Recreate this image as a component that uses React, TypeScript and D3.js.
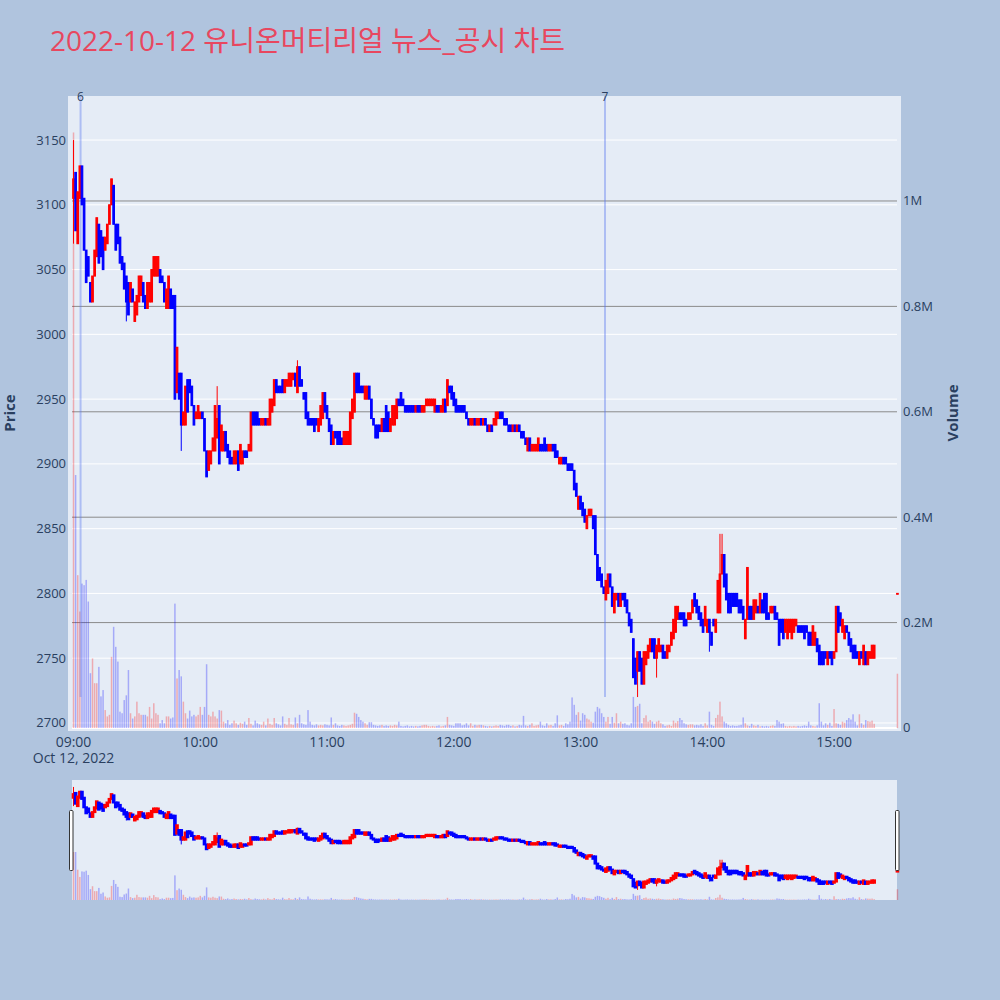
import React, { useEffect, useRef } from 'react'
import * as d3 from 'd3'

const title = '2022-10-12 유니온머티리얼 뉴스_공시 차트'

// one-minute candles from 09:00 (prices in won)
const opens = [
    3105, 3125, 3070, 3105, 3130, 3105, 3065, 3060, 3040, 3025,
    3045, 3060, 3085, 3080, 3075, 3065, 3070, 3085, 3100, 3115,
    3085, 3085, 3075, 3060, 3055, 3045, 3040, 3025, 3035, 3010,
    3015, 3025, 3030, 3040, 3030, 3020, 3025, 3025, 3045, 3045,
    3045, 3050, 3045, 3040, 3020, 3020, 3035, 3030, 3030, 2955,
    2970, 2970, 2930, 2930, 2965, 2965, 2960, 2945, 2935, 2935,
    2935, 2940, 2935, 2910, 2895, 2900, 2910, 2910, 2920, 2945,
    2910, 2910, 2925, 2915, 2910, 2905, 2900, 2900, 2910, 2900,
    2900, 2910, 2910, 2910, 2910, 2940, 2940, 2940, 2935, 2930,
    2930, 2935, 2930, 2930, 2940, 2945, 2965, 2960, 2960, 2965,
    2955, 2960, 2960, 2960, 2965, 2970, 2955, 2975,
    2965, 2955, 2955, 2940, 2935, 2935, 2935, 2935, 2925, 2930,
    2935, 2955, 2945, 2935, 2930, 2915, 2925, 2925, 2925, 2920,
    2915, 2915, 2915, 2915, 2935, 2940, 2970, 2970, 2960, 2960,
    2950, 2950, 2960, 2950, 2935, 2930, 2930, 2930, 2925, 2935,
    2945, 2940, 2925, 2930, 2930, 2935, 2950, 2955, 2950, 2945,
    2945, 2945, 2945, 2945, 2940, 2945, 2945, 2940, 2940, 2945,
    2945, 2945, 2945, 2940, 2945, 2945, 2940, 2940, 2950, 2945,
    2960, 2960, 2955, 2950, 2945, 2945, 2945, 2945,
    2940, 2935, 2930, 2930, 2935, 2930, 2930, 2935, 2930, 2935,
    2930, 2925, 2930, 2930, 2930, 2935, 2940, 2940, 2935, 2935,
    2930, 2930, 2925, 2930, 2925, 2930, 2925, 2925, 2920, 2910,
    2920, 2910, 2910, 2910, 2910, 2915, 2915, 2920, 2915, 2910,
    2910, 2915, 2915, 2910, 2900, 2900, 2905, 2905, 2900, 2900,
    2900, 2895, 2885, 2865, 2875, 2870, 2865, 2850,
    2860, 2860, 2860, 2860, 2830, 2820, 2815, 2805, 2795, 2800,
    2815, 2805, 2785, 2795, 2800, 2790, 2800, 2800, 2795, 2785,
    2780, 2765, 2750, 2740, 2755, 2750, 2730, 2745, 2750, 2755,
    2765, 2765, 2750, 2755, 2755, 2760, 2755, 2750, 2755, 2760,
    2765, 2770, 2780, 2785, 2785, 2785, 2780, 2780, 2780, 2785,
    2800, 2795, 2790,
    2785, 2780, 2775, 2770, 2780, 2770, 2780, 2770, 2785, 2785,
    2815, 2830, 2815, 2800, 2800, 2800, 2800, 2800, 2795, 2795,
    2790, 2765, 2780, 2790, 2790, 2780, 2785, 2790, 2785, 2795,
    2800, 2800, 2785, 2785, 2785, 2790, 2785, 2780, 2780, 2780,
    2770, 2765, 2770, 2765, 2770, 2775, 2775, 2775, 2775, 2775,
    2775, 2770, 2770, 2760, 2760, 2765, 2760, 2755, 2755, 2755,
    2745, 2755, 2755, 2750, 2755, 2790, 2785, 2770, 2765, 2775,
    2770, 2765, 2760, 2760, 2755, 2745, 2755, 2745, 2755, 2745,
    2750, 2750, 2750,
]

const closes = [
    3120, 3080, 3110, 3130, 3100, 3065, 3040, 3045, 3025, 3045,
    3065, 3090, 3055, 3060, 3050, 3075, 3085, 3100, 3120, 3085,
    3065, 3070, 3055, 3050, 3035, 3025, 3015, 3040, 3025, 3025,
    3030, 3045, 3045, 3025, 3020, 3040, 3040, 3050, 3060, 3060,
    3060, 3040, 3040, 3025, 3035, 3045, 3020, 3020, 2950, 2990,
    2950, 2930, 2940, 2960, 2940, 2955, 2945, 2930, 2940, 2945,
    2940, 2935, 2910, 2890, 2910, 2910, 2920, 2945, 2935, 2900,
    2930, 2925, 2910, 2905, 2900, 2900, 2910, 2910, 2895, 2915,
    2910, 2905, 2905, 2915, 2940, 2930, 2930, 2930, 2930, 2935,
    2935, 2930, 2935, 2950, 2950, 2965, 2955, 2955, 2955, 2955,
    2965, 2965, 2970, 2970, 2970, 2960, 2975, 2960,
    2960, 2950, 2935, 2930, 2930, 2930, 2925, 2930, 2935, 2945,
    2955, 2940, 2935, 2925, 2915, 2925, 2920, 2915, 2915, 2915,
    2925, 2925, 2925, 2940, 2950, 2970, 2955, 2955, 2955, 2955,
    2960, 2960, 2950, 2935, 2930, 2920, 2920, 2925, 2935, 2925,
    2925, 2925, 2935, 2945, 2945, 2950, 2945, 2945, 2945, 2940,
    2940, 2940, 2940, 2940, 2945, 2940, 2940, 2945, 2945, 2950,
    2950, 2950, 2950, 2950, 2940, 2940, 2945, 2950, 2940, 2965,
    2955, 2950, 2945, 2940, 2940, 2940, 2940, 2940,
    2935, 2930, 2935, 2935, 2930, 2935, 2935, 2930, 2935, 2930,
    2925, 2930, 2925, 2935, 2940, 2940, 2935, 2935, 2930, 2930,
    2925, 2925, 2930, 2925, 2930, 2925, 2920, 2920, 2915, 2920,
    2910, 2915, 2915, 2915, 2920, 2910, 2910, 2910, 2910, 2915,
    2915, 2910, 2905, 2905, 2905, 2905, 2900, 2900, 2895, 2895,
    2895, 2880, 2875, 2875, 2865, 2860, 2855, 2860,
    2865, 2865, 2850, 2830, 2810, 2810, 2805, 2800, 2810, 2815,
    2805, 2790, 2800, 2800, 2790, 2800, 2795, 2790, 2785, 2775,
    2770, 2735, 2730, 2755, 2740, 2730, 2755, 2755, 2760, 2765,
    2755, 2750, 2760, 2765, 2760, 2750, 2750, 2760, 2760, 2770,
    2780, 2790, 2790, 2780, 2780, 2775, 2775, 2785, 2785, 2795,
    2790, 2785, 2780,
    2775, 2770, 2790, 2780, 2770, 2760, 2775, 2780, 2810, 2815,
    2830, 2805, 2795, 2785, 2785, 2790, 2790, 2790, 2785, 2785,
    2780, 2780, 2820, 2780, 2780, 2795, 2795, 2785, 2800, 2785,
    2785, 2780, 2780, 2790, 2790, 2780, 2780, 2760, 2770, 2765,
    2780, 2780, 2780, 2780, 2780, 2780, 2770, 2770, 2770, 2765,
    2770, 2760, 2760, 2775, 2770, 2755, 2745, 2745, 2745, 2750,
    2755, 2750, 2745, 2755, 2790, 2770, 2775, 2780, 2775, 2770,
    2760, 2755, 2750, 2750, 2750, 2755, 2750, 2760, 2745, 2755,
    2755, 2760, 2760,
]

// traded volume per minute, thousands of shares
const volumesK = [
    1130, 480, 290, 221, 274, 271, 281, 240, 104, 132,
    85, 85, 116, 60, 72, 34, 22, 25, 135, 192,
    154, 126, 31, 28, 53, 62, 110, 28, 18, 22,
    50, 28, 25, 25, 25, 22, 40, 18, 47, 28,
    25, 9, 15, 9, 22, 22, 18, 20, 236, 94,
    110, 98, 50, 28, 18, 33, 22, 25, 22, 25,
    40, 25, 40, 121, 25, 22, 31, 22, 18, 34,
    33, 12, 9, 15, 6, 9, 14, 9, 6, 10,
    8, 12, 6, 19, 8, 5, 14, 9, 7, 6,
    12, 5, 18, 8, 6, 19, 9, 7, 5, 22,
    8, 6, 19, 7, 6, 20, 9, 25, 9, 7,
    6, 34, 12, 6, 5, 7, 5, 6, 5, 7,
    6, 5, 20, 6, 9, 5, 4, 6, 5, 4,
    5, 6, 8, 29, 27, 21, 15, 12, 9, 6,
    11, 11, 6, 5, 4, 5, 6, 4, 5, 4,
    5, 4, 6, 5, 12, 4, 3, 4, 5, 3,
    4, 3, 4, 3, 4, 5, 6, 6, 4, 3,
    4, 3, 4, 5, 3, 4, 5, 21, 6, 5,
    4, 9, 9, 9, 5, 6, 9, 5, 9, 4,
    6, 5, 6, 6, 5, 4, 3, 4, 3, 4,
    5, 4, 6, 5, 4, 6, 6, 4, 5, 3,
    4, 6, 5, 23, 5, 4, 6, 9, 4, 5,
    6, 12, 5, 4, 9, 5, 6, 4, 9, 24,
    5, 6, 4, 9, 7, 12, 58, 44, 25, 30,
    14, 28, 25, 18, 16, 12, 10, 31, 40, 37,
    28, 21, 12, 21, 8, 21, 10, 28, 9, 12,
    8, 9, 6, 5, 9, 59, 40, 42, 46, 9,
    19, 24, 12, 15, 12, 8, 12, 14, 9, 7,
    4, 5, 6, 4, 14, 10, 13, 19, 15, 9,
    7, 6, 7, 7, 5, 6, 5, 7, 4, 9,
    5, 31, 6, 4, 19, 25, 50, 22, 12, 9,
    6, 4, 5, 4, 4, 5, 6, 20, 9, 5,
    4, 8, 5, 4, 6, 3, 4, 3, 4, 3,
    4, 5, 4, 15, 12, 8, 9, 4, 3, 4,
    3, 4, 3, 4, 3, 4, 5, 4, 12, 5,
    4, 3, 5, 47, 12, 5, 9, 6, 10, 4,
    36, 9, 8, 6, 12, 10, 15, 19, 16, 26,
    12, 5, 26, 9, 6, 15, 13, 12, 14, 8,
]

// wicks that stick out beyond the body: [minute index, price]
const wickHighs = [[0, 3150], [68, 2960], [106, 2980], [306, 2846], [307, 2846]]
const wickLows = [[0, 3070], [25, 3010], [51, 2910], [267, 2720], [276, 2735], [301, 2755]]

// closing auction print
const auctionTime = '15:30'
const auctionPrice = 2800
const auctionVolumeK = 103

const newsMarkers = [
    { label: '6', time: '09:03:20' },
    { label: '7', time: '13:11:35' },
]

const priceTicks = [2700, 2750, 2800, 2850, 2900, 2950, 3000, 3050, 3100, 3150]
const volumeTicks = [0, 200000, 400000, 600000, 800000, 1000000]
const volumeTickLabels = ['0', '0.2M', '0.4M', '0.6M', '0.8M', '1M']
const hourTicks = ['09:00', '10:00', '11:00', '12:00', '13:00', '14:00', '15:00']

const at = (hms: string) => {
    const [h, m, s = 0] = hms.split(':').map(Number)
    return new Date(2022, 9, 12, h, m, s)
}

const UP = '#ff0000'
const DOWN = '#0000ff'
const FONT = "'Open Sans', 'Noto Sans CJK KR', sans-serif"
const TICK = '#2a3f5f'

export default function App() {
    const svgRef = useRef<SVGSVGElement>(null)

    useEffect(() => {
        if (!svgRef.current) return
        const svg = d3.select(svgRef.current)
        svg.selectAll('*').remove()

        const start = at('09:00')
        const highMap = new Map(wickHighs.map(d => [d[0], d[1]]))
        const lowMap = new Map(wickLows.map(d => [d[0], d[1]]))
        const candles = opens.map((o, i) => {
            const c = closes[i]
            return {
                t: d3.timeMinute.offset(start, i), o, c,
                h: Math.max(o, c, highMap.get(i) ?? 0),
                l: Math.min(o, c, lowMap.get(i) ?? 1e9),
                v: volumesK[i] * 1000,
                up: false,
            }
        })
        candles.push({ t: at(auctionTime), o: auctionPrice, c: auctionPrice, h: auctionPrice, l: auctionPrice, v: auctionVolumeK * 1000, up: false })
        candles.forEach((d, i) => {
            const prev = i > 0 ? candles[i - 1].c : d.o
            d.up = d.c > d.o || (d.c === d.o && d.c > prev)
        })

        const plot = { left: 68, right: 901, top: 96, bottom: 731 }
        const x = d3.scaleTime().domain([at('08:59:17'), at('15:29:48')]).range([72, 897])
        const yP = d3.scaleLinear().domain([2693.8, 3184]).range([plot.bottom, plot.top])
        const yV = d3.scaleLinear().domain([-5700, 1199200]).range([plot.bottom, plot.top])

        const slider = { top: 780, bottom: 900 }
        const ySP = d3.scaleLinear().domain([2678, 3179]).range([slider.bottom, slider.top])
        const ySV = d3.scaleLinear().domain([0, 460000]).range([slider.bottom, 852]).clamp(true)

        svg.append('rect').attr('width', 1000).attr('height', 1000).attr('fill', '#b0c4de')

        svg.append('text')
            .attr('x', 50).attr('y', 51)
            .attr('font-family', FONT).attr('font-size', 28)
            .attr('fill', '#e8475f')
            .text(title)

        const defs = svg.append('defs')
        defs.append('clipPath').attr('id', 'plot-clip')
            .append('rect').attr('x', plot.left).attr('y', plot.top)
            .attr('width', plot.right - plot.left).attr('height', plot.bottom - plot.top)

        svg.append('rect')
            .attr('x', plot.left).attr('y', plot.top)
            .attr('width', plot.right - plot.left).attr('height', plot.bottom - plot.top)
            .attr('fill', '#e5ecf6')

        // price grid
        svg.append('g').selectAll('line').data(priceTicks).join('line')
            .attr('x1', 72).attr('x2', 897)
            .attr('y1', d => yP(d)).attr('y2', d => yP(d))
            .attr('stroke', '#fff').attr('stroke-width', 1)

        // volume grid
        svg.append('g').selectAll('line').data(volumeTicks.slice(1)).join('line')
            .attr('x1', 72).attr('x2', 897)
            .attr('y1', d => yV(d)).attr('y2', d => yV(d))
            .attr('stroke', '#8a8a8a').attr('stroke-width', 1)
        svg.append('line')
            .attr('x1', 72).attr('x2', 897)
            .attr('y1', yV(0)).attr('y2', yV(0))
            .attr('stroke', '#fff').attr('stroke-width', 2)

        const g = svg.append('g').attr('clip-path', 'url(#plot-clip)')

        // volume bars
        g.append('g').selectAll('rect').data(candles).join('rect')
            .attr('x', d => x(d.t) - 0.75)
            .attr('width', 1.5)
            .attr('y', d => yV(d.v))
            .attr('height', d => yV(0) - yV(d.v))
            .attr('fill', d => d.up ? 'rgba(255,0,0,0.28)' : 'rgba(0,0,255,0.28)')

        // news markers
        const minLow = d3.min(candles, d => d.l) as number
        newsMarkers.forEach(mk => {
            const mx = x(at(mk.time))
            g.append('line')
                .attr('x1', mx).attr('x2', mx)
                .attr('y1', plot.top).attr('y2', yP(minLow))
                .attr('stroke', 'rgba(90,120,240,0.4)').attr('stroke-width', 2)
            svg.append('text')
                .attr('x', mx).attr('y', 101)
                .attr('text-anchor', 'middle')
                .attr('font-family', FONT).attr('font-size', 12)
                .attr('fill', TICK)
                .text(mk.label)
        })

        const drawCandles = (sel: d3.Selection<SVGGElement, unknown, null, undefined>, y: d3.ScaleLinear<number, number>, bw: number, sw: number) => {
            const cg = sel.selectAll('g.c').data(candles).join('g').attr('class', 'c')
            cg.append('line')
                .attr('x1', d => x(d.t)).attr('x2', d => x(d.t))
                .attr('y1', d => y(d.h)).attr('y2', d => y(d.l))
                .attr('stroke', d => d.up ? UP : DOWN).attr('stroke-width', 1)
            cg.append('rect')
                .attr('x', d => x(d.t) - bw / 2)
                .attr('width', bw)
                .attr('y', d => y(Math.max(d.o, d.c)))
                .attr('height', d => Math.max(0.8, Math.abs(y(d.o) - y(d.c))))
                .attr('fill', d => d.up ? UP : DOWN)
                .attr('stroke', d => d.up ? UP : DOWN)
                .attr('stroke-width', sw)
        }
        drawCandles(g.append('g'), yP, 1.6, 1.1)

        // left axis
        svg.append('g').selectAll('text').data(priceTicks).join('text')
            .attr('x', 66).attr('y', d => yP(d) + 4.5)
            .attr('text-anchor', 'end')
            .attr('font-family', FONT).attr('font-size', 13).attr('fill', TICK)
            .text(d => d)

        // right axis
        svg.append('g').selectAll('text').data(volumeTicks).join('text')
            .attr('x', 903).attr('y', (d) => yV(d) + 4.5)
            .attr('font-family', FONT).attr('font-size', 13).attr('fill', TICK)
            .text((_, i) => volumeTickLabels[i])

        // bottom axis
        svg.append('g').selectAll('text').data(hourTicks).join('text')
            .attr('x', d => x(at(d))).attr('y', 747)
            .attr('text-anchor', 'middle')
            .attr('font-family', FONT).attr('font-size', 14).attr('fill', TICK)
            .text(d => d)
        svg.append('text')
            .attr('x', x(start)).attr('y', 763)
            .attr('text-anchor', 'middle')
            .attr('font-family', FONT).attr('font-size', 14).attr('fill', TICK)
            .text(d3.timeFormat('%b %-d, %Y')(start))

        svg.append('text')
            .attr('transform', 'translate(15,413) rotate(-90)')
            .attr('text-anchor', 'middle')
            .attr('font-family', FONT).attr('font-size', 15).attr('font-weight', 'bold').attr('fill', TICK)
            .text('Price')
        svg.append('text')
            .attr('transform', 'translate(958,413) rotate(-90)')
            .attr('text-anchor', 'middle')
            .attr('font-family', FONT).attr('font-size', 15).attr('font-weight', 'bold').attr('fill', TICK)
            .text('Volume')

        // range slider
        svg.append('rect')
            .attr('x', 72).attr('y', slider.top)
            .attr('width', 825).attr('height', slider.bottom - slider.top)
            .attr('fill', '#e5ecf6')
        const sg = svg.append('g')
        sg.append('g').selectAll('rect').data(candles).join('rect')
            .attr('x', d => x(d.t) - 0.75)
            .attr('width', 1.5)
            .attr('y', d => ySV(d.v))
            .attr('height', d => slider.bottom - ySV(d.v))
            .attr('fill', d => d.up ? 'rgba(255,0,0,0.28)' : 'rgba(0,0,255,0.28)')
        drawCandles(sg.append('g'), ySP, 1.6, 2)

        const handles = [69.5, 895.5]
        svg.append('g').selectAll('rect').data(handles).join('rect')
            .attr('x', d => d).attr('y', 810.5)
            .attr('width', 3.5).attr('height', 60)
            .attr('rx', 1)
            .attr('fill', '#fff').attr('stroke', '#333').attr('stroke-width', 1)
    }, [])

    return (
        <svg ref={svgRef} width={1000} height={1000} style={{ position: 'absolute', left: 0, top: 0 }} />
    )
}
